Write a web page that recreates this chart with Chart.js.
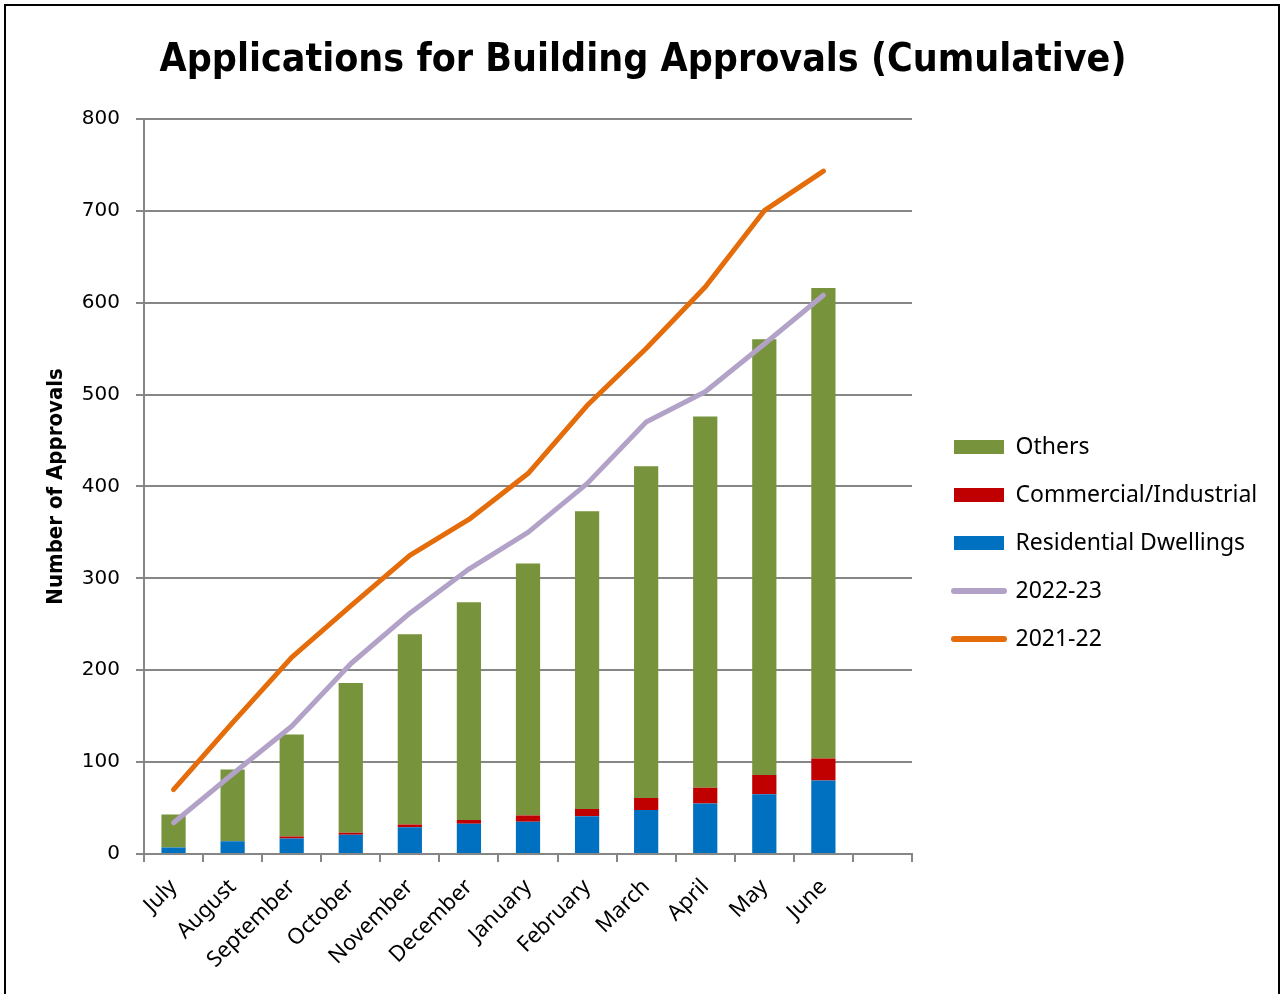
<!DOCTYPE html>
<html>
<head>
<meta charset="utf-8">
<script src="https://cdn.jsdelivr.net/npm/chart.js@4/dist/chart.umd.min.js"></script>
<style>
    html, body { margin: 0; padding: 0; background: #fff; overflow: hidden; }
    #wrap { position: absolute; left: 0; top: 0; width: 1282px; height: 994px; }
    #frame { position: absolute; left: 4px; top: 4px; width: 1272px; height: 1000px; border: 2px solid #000; pointer-events: none; }
</style>
</head>
<body>
<div id="wrap"><canvas id="chart" width="1282" height="994"></canvas></div>
<div id="frame"></div>
<script>
// months of the financial year, plus one empty slot at the end of the axis
const months = ['July', 'August', 'September', 'October', 'November', 'December',
    'January', 'February', 'March', 'April', 'May', 'June', ''];

// cumulative approvals by type, 2022-23
const residential = [7, 14, 17, 21, 29, 33, 35, 41, 48, 55, 65, 80];
const commercial = [0, 0, 2, 2, 3, 4, 7, 8, 13, 17, 21, 24];
const others = [36, 78, 111, 163, 207, 237, 274, 324, 361, 404, 474, 512];

// cumulative totals
const total2223 = [34, 87, 139, 207, 262, 310, 350, 403, 470, 503, 555, 608];
const total2122 = [70, 143, 214, 270, 325, 364, 414, 488, 550, 617, 700, 743];

const yTicks = [0, 100, 200, 300, 400, 500, 600, 700, 800];

const GRID = '#868686';
const LEGEND_W = 343;
const legendOrder = ['Others', 'Commercial/Industrial', 'Residential Dwellings', '2022-23', '2021-22'];

Chart.defaults.font.family = "'Noto Sans', 'DejaVu Sans', sans-serif";
Chart.defaults.color = '#000';

function barSet(label, data, color) {
    return {
        type: 'bar',
        label: label,
        data: data,
        backgroundColor: color,
        borderWidth: 0,
        stack: 'bars',
        barPercentage: 0.41,
        categoryPercentage: 1.0,
        order: 2
    };
}

function lineSet(label, data, color) {
    return {
        type: 'line',
        label: label,
        data: data,
        borderColor: color,
        backgroundColor: color,
        borderWidth: 5,
        borderCapStyle: 'round',
        borderJoinStyle: 'round',
        pointRadius: 0,
        tension: 0,
        stack: label,
        order: 1
    };
}

// the legend would otherwise be capped at a quarter of the canvas width
const wideLegend = {
    id: 'wideLegend',
    beforeLayout(chart) {
        const lg = chart.legend;
        if (lg && !lg._wide) {
            const fit = lg.fit;
            lg.fit = function () {
                fit.call(this);
                this.width = LEGEND_W;
            };
            lg._wide = true;
        }
    }
};

const ctx = document.getElementById('chart');
new Chart(ctx, {
    data: {
        labels: months,
        datasets: [
            barSet('Residential Dwellings', residential, '#0070C0'),
            barSet('Commercial/Industrial', commercial, '#C00000'),
            barSet('Others', others, '#77933C'),
            lineSet('2022-23', total2223, '#B3A2C7'),
            lineSet('2021-22', total2122, '#E46C0A')
        ]
    },
    plugins: [wideLegend],
    options: {
        responsive: false,
        animation: false,
        layout: {
            padding: { left: 14, right: 10, top: 24, bottom: 0 }
        },
        scales: {
            x: {
                stacked: true,
                offset: true,
                grid: {
                    offset: true,
                    drawOnChartArea: false,
                    drawTicks: true,
                    tickLength: 8,
                    color: GRID,
                    lineWidth: 2
                },
                border: { color: GRID, width: 2 },
                ticks: {
                    maxRotation: 45,
                    minRotation: 45,
                    autoSkip: false,
                    padding: 12,
                    font: { size: 22 }
                },
                afterFit: function (scale) { scale.height = 140; }
            },
            y: {
                stacked: true,
                min: 0,
                max: 800,
                afterBuildTicks: function (scale) {
                    scale.ticks = yTicks.map(v => ({ value: v }));
                },
                grid: {
                    color: GRID,
                    lineWidth: 2,
                    tickLength: 8
                },
                border: { color: GRID, width: 2 },
                ticks: {
                    padding: 16,
                    font: { size: 20, family: "'DejaVu Sans', sans-serif" }
                },
                title: {
                    display: true,
                    text: 'Number of Approvals',
                    font: { size: 22, weight: 'bold', family: "'Liberation Sans Narrow', 'DejaVu Sans Condensed', 'Liberation Sans', sans-serif" },
                    padding: { top: 29, bottom: 6 }
                },
                afterFit: function (scale) { scale.width = 130; }
            },
            // empty strip between the plot and the legend
            gap: {
                type: 'linear',
                position: 'right',
                display: false,
                afterFit: function (scale) { scale.width = 17; }
            }
        },
        plugins: {
            title: {
                display: true,
                text: 'Applications for Building Approvals (Cumulative)',
                color: '#000',
                font: { size: 39, weight: 'bold', family: "'Liberation Sans Narrow', 'DejaVu Sans Condensed', 'Liberation Sans', sans-serif" },
                padding: { top: 13, bottom: 35 }
            },
            legend: {
                position: 'right',
                title: {
                    display: true,
                    text: ' ',
                    font: { size: 20 },
                    padding: { top: 0, bottom: 44 }
                },
                labels: {
                    usePointStyle: true,
                    pointStyleWidth: 50,
                    boxWidth: 50,
                    boxHeight: 14,
                    padding: 25,
                    font: { size: 23 },
                    sort: (a, b) => legendOrder.indexOf(a.text) - legendOrder.indexOf(b.text),
                    generateLabels: function (chart) {
                        const items = Chart.defaults.plugins.legend.labels.generateLabels(chart);
                        items.forEach(it => {
                            const ds = chart.data.datasets[it.datasetIndex];
                            if (ds.type === 'line') {
                                it.pointStyle = 'line';
                                it.strokeStyle = ds.borderColor;
                                it.lineWidth = 6;
                                it.lineCap = 'round';
                            } else {
                                it.pointStyle = 'rect';
                                it.fillStyle = ds.backgroundColor;
                                it.strokeStyle = ds.backgroundColor;
                                it.lineWidth = 0;
                            }
                        });
                        return items;
                    }
                }
            },
            tooltip: { enabled: false }
        }
    }
});
</script>
</body>
</html>
